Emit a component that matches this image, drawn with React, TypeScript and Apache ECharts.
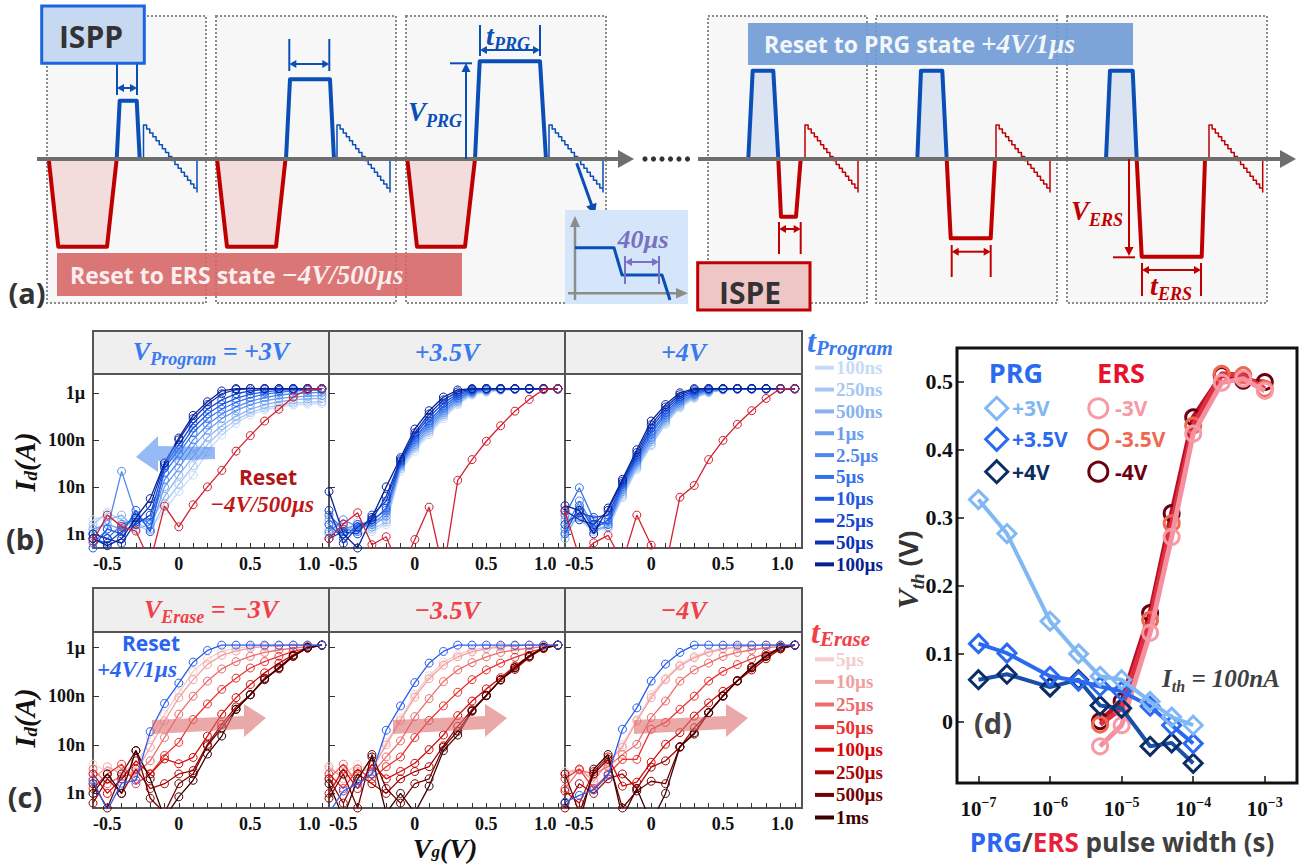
import React, { useEffect, useRef } from "react";
import * as echarts from "echarts";

// ---------------- DATA ----------------
const VG = [-0.6, -0.5, -0.4, -0.3, -0.2, -0.1, 0, 0.1, 0.2, 0.3, 0.4, 0.5, 0.6, 0.7, 0.8, 0.9, 1.0];
const X_MINOR_TICKS = [-0.5, -0.4, -0.3, -0.2, -0.1, 0, 0.1, 0.2, 0.3, 0.4, 0.5, 0.6, 0.7, 0.8, 0.9, 1.0];
const X_LABELS = [-0.5, 0, 0.5, 1.0];
const Y_TICK_LOG = [-9, -8, -7, -6];
const Y_TICK_TEXT = ["1n", "10n", "100n", "1µ"];

const T_PROGRAM = ["100ns", "250ns", "500ns", "1µs", "2.5µs", "5µs", "10µs", "25µs", "50µs", "100µs"];
const PRG_COLORS = ["#c6dbf7", "#a8c6f3", "#8ab2f0", "#6c9df0", "#4f88ef", "#3472ee", "#1f5ae6", "#1446cf", "#0c33b4", "#081f94"];
const T_ERASE = ["5µs", "10µs", "25µs", "50µs", "100µs", "250µs", "500µs", "1ms"];
const ERS_COLORS = ["#f6cccc", "#f1a0a0", "#ee6c6c", "#ea3434", "#d40a0a", "#a60606", "#730303", "#3d0000"];
const V_PROGRAM = ["+3V", "+3.5V", "+4V"];
const V_ERASE = ["−3V", "−3.5V", "−4V"];

// log10(Id [A]) versus VG, panel (b) V_Program = +3V
const B1 = [
  [-8.70, -8.60, -8.85, -8.75, -8.90, -8.50, -8.10, -7.75, -7.25, -6.90, -6.65, -6.47, -6.36, -6.30, -6.26, -6.24, -6.23],
  [-8.80, -8.55, -8.70, -8.80, -8.95, -8.35, -7.95, -7.55, -7.10, -6.80, -6.58, -6.42, -6.32, -6.26, -6.22, -6.20, -6.19],
  [-9.00, -8.70, -8.60, -8.90, -8.80, -8.20, -7.75, -7.35, -6.95, -6.70, -6.50, -6.35, -6.25, -6.19, -6.15, -6.13, -6.12],
  [-8.90, -8.80, -8.90, -8.60, -8.90, -8.00, -7.60, -7.15, -6.80, -6.55, -6.38, -6.25, -6.17, -6.12, -6.09, -6.07, -6.06],
  [-9.20, -8.90, -7.67, -8.60, -8.80, -7.85, -7.45, -7.00, -6.68, -6.45, -6.30, -6.18, -6.10, -6.05, -6.02, -6.00, -5.99],
  [-9.00, -9.10, -8.80, -8.70, -8.70, -7.70, -7.30, -6.85, -6.55, -6.35, -6.20, -6.10, -6.03, -5.99, -5.96, -5.95, -5.94],
  [-9.30, -8.90, -9.00, -8.50, -8.95, -7.60, -7.20, -6.75, -6.45, -6.25, -6.12, -6.03, -5.98, -5.95, -5.93, -5.92, -5.92],
  [-9.10, -9.20, -8.95, -8.80, -8.60, -7.55, -7.10, -6.65, -6.35, -6.15, -6.02, -5.96, -5.93, -5.92, -5.92, -5.91, -5.91],
  [-9.00, -9.10, -9.20, -8.75, -8.40, -7.50, -7.00, -6.55, -6.25, -6.02, -5.93, -5.91, -5.91, -5.91, -5.91, -5.91, -5.91],
  [-9.10, -9.25, -9.10, -8.66, -8.25, -7.49, -6.96, -6.48, -6.19, -5.96, -5.91, -5.91, -5.91, -5.91, -5.91, -5.91, -5.91],
];
const B1_RESET = [-9.15, -8.60, -8.84, -8.94, -9.60, -8.41, -8.85, -8.38, -8.00, -7.65, -7.24, -6.91, -6.60, -6.35, -6.09, -5.93, -5.91];

// panel (b) +3.5V
const B2 = [
  [-8.90, -8.80, -9.00, -8.95, -8.80, -7.67, -7.24, -6.89, -6.55, -6.25, -6.05, -5.99, -5.95, -5.93, -5.92, -5.92, -5.92],
  [-8.80, -9.00, -8.75, -8.90, -8.75, -7.62, -7.18, -6.84, -6.50, -6.22, -6.03, -5.97, -5.94, -5.93, -5.92, -5.92, -5.92],
  [-9.00, -8.85, -8.90, -8.70, -8.70, -7.58, -7.14, -6.80, -6.46, -6.19, -6.01, -5.96, -5.93, -5.92, -5.92, -5.92, -5.92],
  [-8.70, -8.90, -8.80, -8.85, -8.62, -7.55, -7.10, -6.75, -6.42, -6.16, -6.00, -5.95, -5.93, -5.92, -5.92, -5.92, -5.92],
  [-8.95, -8.70, -8.85, -8.80, -8.55, -7.52, -7.05, -6.70, -6.38, -6.13, -5.98, -5.94, -5.92, -5.92, -5.92, -5.92, -5.92],
  [-8.60, -8.90, -8.95, -8.70, -8.50, -7.50, -7.00, -6.65, -6.33, -6.10, -5.97, -5.93, -5.92, -5.92, -5.92, -5.92, -5.92],
  [-8.80, -9.10, -8.80, -8.75, -8.45, -7.47, -6.95, -6.60, -6.28, -6.06, -5.95, -5.92, -5.92, -5.92, -5.92, -5.92, -5.92],
  [-9.10, -8.95, -9.00, -8.60, -8.30, -7.45, -6.90, -6.52, -6.22, -6.02, -5.93, -5.91, -5.91, -5.91, -5.91, -5.91, -5.91],
  [-8.50, -9.20, -8.85, -8.70, -8.20, -7.42, -6.85, -6.45, -6.15, -5.98, -5.92, -5.91, -5.91, -5.91, -5.91, -5.91, -5.91],
  [-8.10, -9.00, -9.30, -8.65, -8.00, -7.38, -6.77, -6.38, -6.09, -5.94, -5.91, -5.91, -5.91, -5.91, -5.91, -5.91, -5.91],
];
const B2_RESET = [-9.10, -8.79, -8.55, -9.23, -9.06, -9.80, -9.12, -8.43, -9.80, -7.86, -7.42, -7.03, -6.70, -6.39, -6.14, -5.93, -5.91];

// panel (b) +4V
const B3 = [
  [-9.00, -8.60, -8.80, -8.90, -8.23, -7.63, -7.13, -6.67, -6.32, -6.12, -6.00, -5.94, -5.92, -5.92, -5.92, -5.92, -5.92],
  [-8.80, -8.70, -8.95, -8.85, -8.20, -7.60, -7.10, -6.64, -6.30, -6.10, -5.99, -5.94, -5.92, -5.92, -5.92, -5.92, -5.92],
  [-9.10, -8.50, -8.75, -8.80, -8.15, -7.56, -7.05, -6.60, -6.27, -6.08, -5.98, -5.93, -5.92, -5.92, -5.92, -5.92, -5.92],
  [-8.70, -8.65, -8.90, -8.85, -8.10, -7.52, -7.00, -6.56, -6.24, -6.06, -5.97, -5.93, -5.92, -5.92, -5.92, -5.92, -5.92],
  [-8.90, -8.30, -8.85, -8.75, -8.05, -7.47, -6.95, -6.52, -6.20, -6.04, -5.95, -5.92, -5.92, -5.92, -5.92, -5.92, -5.92],
  [-8.60, -8.02, -8.70, -8.80, -8.00, -7.43, -6.88, -6.47, -6.16, -6.02, -5.94, -5.92, -5.92, -5.92, -5.92, -5.92, -5.92],
  [-9.00, -8.40, -8.90, -8.70, -7.95, -7.38, -6.82, -6.42, -6.12, -5.99, -5.93, -5.91, -5.91, -5.91, -5.91, -5.91, -5.91],
  [-8.80, -8.55, -8.65, -8.60, -7.92, -7.33, -6.75, -6.36, -6.08, -5.96, -5.92, -5.91, -5.91, -5.91, -5.91, -5.91, -5.91],
  [-8.50, -8.70, -8.80, -8.50, -7.88, -7.27, -6.68, -6.30, -6.04, -5.93, -5.91, -5.91, -5.91, -5.91, -5.91, -5.91, -5.91],
  [-8.40, -8.50, -9.00, -8.45, -7.84, -7.21, -6.60, -6.25, -6.00, -5.91, -5.91, -5.91, -5.91, -5.91, -5.91, -5.91, -5.91],
];
const B3_RESET = [-8.52, -9.50, -9.19, -9.03, -9.60, -8.60, -9.24, -9.70, -8.22, -7.97, -7.42, -7.01, -6.67, -6.38, -6.12, -5.91, -5.91];

// panel (c) V_Erase = -3V
const C1 = [
  [-8.40, -8.55, -8.50, -8.46, -7.85, -7.37, -6.93, -6.49, -6.23, -6.08, -6.01, -5.98, -5.96, -5.95, -5.95, -5.95, -5.95],
  [-8.70, -8.45, -8.60, -8.56, -8.05, -7.51, -7.03, -6.66, -6.35, -6.16, -6.07, -6.01, -5.98, -5.96, -5.95, -5.95, -5.95],
  [-8.50, -8.80, -8.65, -8.60, -8.33, -7.85, -7.37, -7.00, -6.69, -6.44, -6.29, -6.18, -6.10, -6.05, -6.01, -5.98, -5.95],
  [-8.90, -8.60, -8.40, -8.80, -8.60, -8.22, -7.95, -7.48, -7.16, -6.86, -6.63, -6.42, -6.29, -6.18, -6.08, -6.01, -5.95],
  [-8.60, -9.00, -8.70, -8.33, -8.60, -8.29, -8.39, -8.26, -7.82, -7.37, -7.03, -6.76, -6.52, -6.32, -6.15, -6.01, -5.95],
  [-9.20, -8.70, -9.00, -8.50, -8.90, -8.80, -8.60, -8.53, -7.99, -7.58, -7.22, -6.97, -6.63, -6.44, -6.18, -6.01, -5.95],
  [-8.80, -9.30, -8.60, -8.12, -9.10, -9.40, -8.80, -8.60, -8.02, -7.65, -7.27, -6.97, -6.64, -6.41, -6.16, -5.99, -5.95],
  [-9.00, -8.60, -9.00, -8.12, -8.70, -9.50, -9.07, -8.73, -8.19, -7.82, -7.27, -6.97, -6.66, -6.42, -6.18, -6.00, -5.95],
];
const C1_RESET = [-8.73, -9.35, -8.79, -8.73, -7.73, -7.15, -6.73, -6.30, -6.06, -5.95, -5.95, -5.95, -5.95, -5.95, -5.95, -5.95, -5.95];

// panel (c) -3.5V
const C2 = [
  [-8.50, -8.60, -8.40, -8.55, -7.95, -7.45, -6.96, -6.58, -6.30, -6.14, -6.05, -6.00, -5.97, -5.96, -5.95, -5.95, -5.95],
  [-8.45, -8.70, -8.55, -8.50, -8.00, -7.50, -7.02, -6.64, -6.36, -6.19, -6.09, -6.02, -5.99, -5.96, -5.95, -5.95, -5.95],
  [-8.70, -8.40, -8.80, -8.60, -8.25, -7.92, -7.42, -7.05, -6.70, -6.46, -6.31, -6.19, -6.10, -6.05, -6.01, -5.98, -5.95],
  [-8.60, -8.90, -8.50, -8.70, -8.45, -8.25, -7.85, -7.50, -7.20, -6.92, -6.66, -6.46, -6.32, -6.20, -6.10, -6.01, -5.95],
  [-9.00, -8.50, -8.90, -8.40, -8.70, -8.55, -8.38, -8.10, -7.80, -7.40, -7.10, -6.85, -6.62, -6.38, -6.17, -6.01, -5.95],
  [-8.70, -9.20, -8.60, -8.80, -9.00, -8.70, -8.55, -8.45, -8.02, -7.62, -7.28, -6.99, -6.66, -6.45, -6.20, -6.02, -5.95],
  [-9.10, -8.60, -9.30, -8.20, -8.90, -9.20, -8.80, -8.70, -8.05, -7.72, -7.30, -6.99, -6.66, -6.41, -6.17, -6.00, -5.95],
  [-8.80, -9.50, -8.70, -8.25, -9.40, -9.00, -9.40, -8.85, -8.12, -7.80, -7.31, -6.98, -6.67, -6.42, -6.18, -6.00, -5.95],
];
const C2_RESET = [-9.40, -8.95, -8.80, -8.60, -7.70, -7.20, -6.72, -6.32, -6.08, -5.95, -5.95, -5.95, -5.95, -5.95, -5.95, -5.95, -5.95];

// panel (c) -4V
const C3 = [
  [-8.55, -8.50, -8.70, -8.40, -8.00, -7.48, -6.97, -6.63, -6.35, -6.18, -6.08, -6.01, -5.98, -5.96, -5.95, -5.95, -5.95],
  [-8.60, -8.50, -8.75, -8.35, -8.05, -7.51, -7.03, -6.66, -6.38, -6.21, -6.10, -6.03, -5.99, -5.96, -5.95, -5.95, -5.95],
  [-8.90, -8.52, -8.60, -8.45, -8.20, -7.99, -7.44, -7.10, -6.69, -6.46, -6.32, -6.18, -6.10, -6.05, -6.00, -5.98, -5.95],
  [-8.70, -8.50, -8.90, -8.60, -8.30, -8.30, -7.68, -7.54, -7.27, -7.00, -6.69, -6.49, -6.35, -6.23, -6.12, -6.02, -5.95],
  [-8.95, -9.20, -8.55, -8.25, -8.85, -8.77, -8.36, -7.99, -7.75, -7.41, -7.14, -6.90, -6.69, -6.42, -6.18, -6.02, -5.95],
  [-9.30, -8.80, -9.00, -8.70, -8.60, -8.90, -8.46, -8.33, -8.05, -7.65, -7.34, -7.00, -6.69, -6.46, -6.23, -6.03, -5.95],
  [-8.60, -9.40, -8.60, -8.30, -9.30, -8.95, -8.75, -8.80, -8.04, -7.75, -7.34, -7.00, -6.68, -6.40, -6.17, -6.01, -5.95],
  [-9.20, -9.60, -8.50, -8.20, -9.50, -8.90, -9.60, -9.00, -8.04, -7.78, -7.34, -6.99, -6.68, -6.41, -6.18, -5.99, -5.95],
];
const C3_RESET = [-9.18, -9.04, -8.93, -8.63, -7.68, -7.24, -6.69, -6.34, -6.10, -5.95, -5.95, -5.95, -5.95, -5.95, -5.95, -5.95, -5.95];

// panel (d): threshold voltage vs pulse width (s)
const PRG_WIDTH = [1e-7, 2.5e-7, 1e-6, 2.5e-6, 5e-6, 1e-5, 2.5e-5, 5e-5, 1e-4];
const VTH_PRG_3 = [0.327, 0.277, 0.148, 0.100, 0.067, 0.062, 0.030, 0.007, -0.005];
const VTH_PRG_35 = [0.115, 0.101, 0.067, 0.060, 0.052, 0.045, 0.023, -0.005, -0.032];
const VTH_PRG_4 = [0.062, 0.070, 0.051, 0.062, 0.024, 0.020, -0.036, -0.031, -0.061];
const ERS_WIDTH = [5e-6, 1e-5, 2.5e-5, 5e-5, 1e-4, 2.5e-4, 5e-4, 1e-3];
const VTH_ERS_3 = [-0.036, -0.005, 0.131, 0.272, 0.424, 0.499, 0.505, 0.487];
const VTH_ERS_35 = [-0.004, 0.020, 0.150, 0.292, 0.436, 0.512, 0.510, 0.490];
const VTH_ERS_4 = [0.001, 0.030, 0.160, 0.307, 0.448, 0.510, 0.502, 0.500];
const D_X_TICKS = [-7, -6, -5, -4, -3];
const D_Y_TICKS = [0, 0.1, 0.2, 0.3, 0.4, 0.5];

// ---------------- STYLE ----------------
const SERIF = '"Liberation Serif", "DejaVu Serif", serif';
const SANS = '"Open Sans", Lato, sans-serif';
const BLUE = "#0a4fb5";
const RED = "#c00000";
const GRAY = "#6e6e6e";

// ---------------- GRAPHIC HELPERS ----------------
function buildGraphic() {
  const G: any[] = [];
  const add = (el: any) => { if (el.z === undefined) el.z = 50; G.push(el); };
  const ln = (x1: number, y1: number, x2: number, y2: number, stroke: string, lw: number, extra: any = {}) =>
    add({ type: "line", shape: { x1, y1, x2, y2 }, style: { stroke, lineWidth: lw, ...extra } });
  const pl = (points: number[][], stroke: string, lw: number) =>
    add({ type: "polyline", shape: { points }, style: { stroke, lineWidth: lw, fill: null, lineJoin: "round" } });
  const pg = (points: number[][], fill: string, extra: any = {}) =>
    add({ type: "polygon", shape: { points }, style: { fill, ...extra } });
  const rc = (x: number, y: number, w: number, h: number, style: any) =>
    add({ type: "rect", shape: { x, y, width: w, height: h }, style });
  const tx = (x: number, y: number, text: string, font: string, fill: string, align = "center", va = "middle", rotation = 0) =>
    add({ type: "text", x, y, rotation, style: { text, font, fill, align, verticalAlign: va, textAlign: align, textVerticalAlign: va } });
  const rt = (x: number, y: number, text: string, rich: any, align = "center", va = "middle", rotation = 0) =>
    add({ type: "text", x, y, rotation, style: { text, rich, align, verticalAlign: va, textAlign: align, textVerticalAlign: va } });
  const head = (px: number, py: number, ang: number, len: number, wid: number, color: string) => {
    const bx = px - Math.cos(ang) * len, by = py - Math.sin(ang) * len;
    const nx = -Math.sin(ang) * wid / 2, ny = Math.cos(ang) * wid / 2;
    pg([[px, py], [bx + nx, by + ny], [bx - nx, by - ny]], color);
  };
  const dbl = (x1: number, x2: number, y: number, color: string) => {
    ln(x1 + 5, y, x2 - 5, y, color, 2);
    head(x1, y, Math.PI, 7, 8, color);
    head(x2, y, 0, 7, 8, color);
  };
  const sweep = (x0: number, x1: number, color: string) => {
    const yT = 125, yB = 192, n = 17;
    const pts: number[][] = [[x0, 159], [x0, yT]];
    const dx = (x1 - x0) / n, dy = (yB - yT) / n;
    for (let i = 0; i < n; i++) {
      pts.push([x0 + dx * (i + 1), yT + dy * i]);
      pts.push([x0 + dx * (i + 1), yT + dy * (i + 1)]);
    }
    pts.push([x1, 159]);
    pl(pts, color, 1.5);
  };
  const sub = (size: number, color: string, font = SERIF, style = "italic") => ({
    fontSize: size, fontFamily: font, fontWeight: "bold", fontStyle: style, fill: color, color,
    lineHeight: size, verticalAlign: "bottom",
  });
  const main = (size: number, color: string, font = SERIF, style = "italic", lh = 0) => ({
    fontSize: size, fontFamily: font, fontWeight: "bold", fontStyle: style, fill: color, color,
    lineHeight: lh || Math.round(size * 1.3), verticalAlign: "middle",
  });

  // ===== Panel (a) =====
  const boxes = [[47, 206], [216, 396], [406, 606], [708, 867], [876, 1057], [1067, 1267]];
  boxes.forEach(([a, b]) => rc(a, 16, b - a, 287, { fill: "#f7f7f7", stroke: "#8a8a8a", lineWidth: 2, lineDash: [2, 2] }));

  // reset-to-ERS banner
  rc(57, 253, 405, 43, { fill: "rgba(214,100,100,0.88)" });
  rt(70, 275, "{a|Reset to ERS state }{b|−4V/500µs}", {
    a: { fontSize: 23, fontFamily: SANS, fontWeight: "bold", fill: "#fbeeee", color: "#fbeeee" },
    b: { fontSize: 27, fontFamily: SERIF, fontWeight: "bold", fontStyle: "italic", fill: "#fbeeee", color: "#fbeeee" },
  }, "left");
  // reset-to-PRG banner
  rc(748, 23, 385, 42, { fill: "rgba(110,154,212,0.9)" });
  rt(764, 44, "{a|Reset to PRG state }{b|+4V/1µs}", {
    a: { fontSize: 23, fontFamily: SANS, fontWeight: "bold", fill: "#f3f6fb", color: "#f3f6fb" },
    b: { fontSize: 27, fontFamily: SERIF, fontWeight: "bold", fontStyle: "italic", fill: "#f3f6fb", color: "#f3f6fb" },
  }, "left");

  // ISPP cycles (boxes 1-3)
  const ersA = [
    [[48.7, 159], [58.3, 246.7], [107, 246.7], [116.7, 159]],
    [[217, 159], [227, 246.7], [276, 246.7], [285.5, 159]],
    [[407.3, 159], [417, 246.7], [465, 246.7], [475, 159]],
  ];
  const prgA = [
    [[116.7, 159], [119.7, 100.7], [136.7, 100.7], [139.7, 159]],
    [[286, 159], [290, 79.3], [330, 79.3], [334, 159]],
    [[475, 159], [479.7, 61.3], [540, 61.3], [546, 159]],
  ];
  ersA.forEach((p) => { pg(p, "#f2dcdc"); pl(p, RED, 4); });
  prgA.forEach((p) => pl(p, BLUE, 4));
  sweep(143.5, 197, BLUE);
  sweep(337, 390, BLUE);
  sweep(549, 603, BLUE);

  // ISPE cycles (boxes 4-6)
  const prgB = [
    [[748.3, 159], [752.7, 70.7], [773.3, 70.7], [778.3, 159]],
    [[917.3, 159], [921, 70.7], [942.3, 70.7], [946.7, 159]],
    [[1106, 159], [1110, 70.7], [1132.7, 70.7], [1136.7, 159]],
  ];
  const ersB = [
    [[778.3, 159], [781, 216.7], [796, 216.7], [800.7, 159]],
    [[946.7, 159], [950.7, 238.3], [990.7, 238.3], [995, 159]],
    [[1136.7, 159], [1141.7, 256.7], [1201.7, 256.7], [1205, 159]],
  ];
  prgB.forEach((p) => { pg(p, "#dde4f1"); pl(p, BLUE, 4); });
  ersB.forEach((p) => pl(p, RED, 4));
  sweep(805, 858, RED);
  sweep(996, 1050, RED);
  sweep(1209, 1262.7, RED);

  // time axes
  ln(37, 159, 622, 159, GRAY, 4);
  pg([[618, 150], [634, 159], [618, 168]], GRAY);
  [645, 653.5, 662, 670.5, 679, 687.5].forEach((x) => add({ type: "circle", shape: { cx: x, cy: 159, r: 2.6 }, style: { fill: "#333" } }));
  ln(698, 159, 1284, 159, GRAY, 4);
  pg([[1280, 150], [1296, 159], [1280, 168]], GRAY);

  // width markers
  ln(117, 63, 117, 95, BLUE, 2); ln(137, 63, 137, 95, BLUE, 2); dbl(117, 137, 88, BLUE);
  ln(289.3, 39, 289.3, 71, BLUE, 2); ln(329.3, 39, 329.3, 71, BLUE, 2); dbl(289.3, 329.3, 64, BLUE);
  ln(480, 25, 480, 56, BLUE, 2); ln(540, 25, 540, 56, BLUE, 2); dbl(480, 540, 50, BLUE);
  rt(508, 35, "{m|t}{s|PRG}", { m: main(28, BLUE), s: sub(18, BLUE) });
  // V_PRG
  ln(466, 159, 466, 70, BLUE, 2); head(466, 63, -Math.PI / 2, 9, 9, BLUE); ln(450, 63.3, 472, 63.3, BLUE, 2);
  rt(435, 112, "{m|V}{s|PRG}", { m: main(27, BLUE), s: sub(18, BLUE) });

  ln(779, 222, 779, 254, RED, 2); ln(800.7, 222, 800.7, 254, RED, 2); dbl(779, 800.7, 229, RED);
  ln(951.7, 245, 951.7, 277, RED, 2); ln(990.7, 245, 990.7, 277, RED, 2); dbl(951.7, 990.7, 251.7, RED);
  ln(1129, 159, 1129, 249, RED, 2); head(1129, 256, Math.PI / 2, 9, 9, RED); ln(1113, 257.3, 1135, 257.3, RED, 2);
  rt(1097, 211, "{m|V}{s|ERS}", { m: main(27, RED), s: sub(18, RED) });
  ln(1142, 263, 1142, 296, RED, 2); ln(1201, 263, 1201, 296, RED, 2); dbl(1142, 1201, 270, RED);
  rt(1171, 285, "{m|t}{s|ERS}", { m: main(28, RED), s: sub(18, RED) });

  // inset
  ln(576.7, 163.3, 592, 206, BLUE, 3); head(595, 215, Math.atan2(51.7, 18.3), 11, 11, BLUE);
  rc(565, 210, 123, 94, { fill: "#d6e6fa" });
  ln(575, 300, 575, 226, "#8c8c8c", 2.5); pg([[570, 227], [575, 216], [580, 227]], "#8c8c8c");
  ln(568, 293.3, 678, 293.3, "#8c8c8c", 2.5); pg([[676, 288], [688, 293.3], [676, 298.6]], "#8c8c8c");
  pl([[575, 247.7], [614, 247.7], [622, 275], [662, 275], [670, 300]], BLUE, 3);
  ln(625, 256, 625, 284, "#7a70c8", 2); ln(659, 256, 659, 284, "#7a70c8", 2); dbl(625, 659, 262, "#7a70c8");
  tx(643, 239, "40µs", `italic bold 26px ${SERIF}`, "#7a70c0");

  // ISPP / ISPE labels
  rc(41.7, 6, 102.6, 57.3, { fill: "#c6d9f0", stroke: "#1a66e0", lineWidth: 3 });
  tx(91, 36, "ISPP", `bold 30px ${SANS}`, "#333");
  rc(697.7, 262.7, 112.3, 47.3, { fill: "#efc6c6", stroke: RED, lineWidth: 3 });
  tx(750, 292, "ISPE", `bold 30px ${SANS}`, "#333");

  // panel labels
  tx(27, 292, "(a)", `bold 29px ${SANS}`, "#333");
  tx(25, 538, "(b)", `bold 29px ${SANS}`, "#333");
  tx(25, 796, "(c)", `bold 29px ${SANS}`, "#333");

  // ===== Panels (b), (c) =====
  const colX = [[93, 236], [329, 236], [565, 237]];
  const bTitleCol = "#3a7af0";
  const cTitleCol = "#f04048";
  colX.forEach(([x, w], i) => {
    rc(x, 331, w, 43, { fill: "#efefef", stroke: "#555", lineWidth: 2 });
    rc(x, 588, w, 44, { fill: "#efefef", stroke: "#555", lineWidth: 2 });
    if (i === 0) {
      rt(x + w / 2, 351, `{m|V}{s|Program}{m| = ${V_PROGRAM[i]}}`, { m: main(26, bTitleCol), s: sub(18, bTitleCol) });
      rt(x + w / 2, 609, `{m|V}{s|Erase}{m| = ${V_ERASE[i]}}`, { m: main(26, cTitleCol), s: sub(18, cTitleCol) });
    } else {
      tx(x + w / 2, 352, V_PROGRAM[i], `italic bold 26px ${SERIF}`, bTitleCol);
      tx(x + w / 2, 610, V_ERASE[i], `italic bold 26px ${SERIF}`, cTitleCol);
    }
  });

  // legends
  rt(807, 341, "{m|t}{s|Program}", { m: main(32, bTitleCol, SERIF, "italic", 34), s: sub(21, bTitleCol) }, "left");
  T_PROGRAM.forEach((t, k) => {
    const y = 367.7 + k * 21.85;
    ln(815, y, 834, y, PRG_COLORS[k], 4);
    tx(836, y, t, `bold 19px ${SERIF}`, PRG_COLORS[k], "left");
  });
  rt(811, 632, "{m|t}{s|Erase}", { m: main(32, cTitleCol, SERIF, "italic", 34), s: sub(21, cTitleCol) }, "left");
  T_ERASE.forEach((t, k) => {
    const y = 659.3 + k * 22.6;
    ln(815, y, 834, y, ERS_COLORS[k], 4);
    tx(836, y, t, `bold 19px ${SERIF}`, ERS_COLORS[k], "left");
  });

  // annotations
  pg([[215, 447], [158, 446], [158, 436], [136, 457], [158, 472], [158, 461], [215, 459]], "rgba(80,140,240,0.6)", { z: 60 });
  tx(268, 477, "Reset", `bold 21px ${SANS}`, "#b01818");
  tx(262, 504, "−4V/500µs", `italic bold 23px ${SERIF}`, "#c01818");
  tx(151, 643, "Reset", `bold 21px ${SANS}`, "#2a64f0");
  tx(137, 669, "+4V/1µs", `italic bold 23px ${SERIF}`, "#2a64f0");
  [0, 241, 482].forEach((dx) => {
    pg([[152 + dx, 734], [152 + dx, 720], [244 + dx, 716], [244 + dx, 704], [266 + dx, 718], [244 + dx, 737], [244 + dx, 729]], "rgba(222,110,110,0.6)");
  });

  // axis titles (b,c)
  rt(25, 462, "{m|I}{s|d}{m|(A)}", { m: main(29, "#111", SERIF, "italic", 30), s: sub(19, "#111") }, "center", "middle", Math.PI / 2);
  rt(25, 718, "{m|I}{s|d}{m|(A)}", { m: main(29, "#111", SERIF, "italic", 30), s: sub(19, "#111") }, "center", "middle", Math.PI / 2);
  rt(445, 848, "{m|V}{s|g}{m|(V)}", { m: main(28, "#111", SERIF, "italic", 24), s: sub(17, "#111") });

  // ===== Panel (d) =====
  tx(1016, 372, "PRG", `bold 27px ${SANS}`, "#2a6af0");
  tx(1121, 372, "ERS", `bold 27px ${SANS}`, "#e8102a");
  const prgLeg = [["+3V", "#80b8f5"], ["+3.5V", "#2a6af0"], ["+4V", "#0c2d64"]];
  const ersLeg = [["-3V", "#f79aa5"], ["-3.5V", "#f06850"], ["-4V", "#6b0012"]];
  [408.3, 439.3, 471.7].forEach((y, k) => {
    const cx = 996.7;
    pg([[cx, y - 11], [cx + 11, y], [cx, y + 11], [cx - 11, y]], "none", { stroke: prgLeg[k][1], lineWidth: 3 });
    tx(1012, y, prgLeg[k][0], `bold 21px ${SANS}`, prgLeg[k][1], "left");
    add({ type: "circle", shape: { cx: 1098.3, cy: y, r: 9.5 }, style: { fill: "none", stroke: ersLeg[k][1], lineWidth: 3 } });
    tx(1115, y, ersLeg[k][0], `bold 21px ${SANS}`, ersLeg[k][1], "left");
  });
  tx(993, 722, "(d)", `bold 29px ${SANS}`, "#444");
  rt(1221, 678, "{m|I}{s|th}{m| = 100nA}", { m: main(25, "#404040"), s: sub(16, "#404040") });
  rt(907, 570, "{m|V}{s|th}{p| (V)}", {
    m: main(30, "#333"), s: sub(19, "#333"),
    p: { fontSize: 27, fontFamily: SANS, fontWeight: "bold", fill: "#333", color: "#333", lineHeight: 39, verticalAlign: "middle" },
  }, "center", "middle", Math.PI / 2);
  const xt = (c: string) => ({ fontSize: 26, fontFamily: SANS, fontWeight: "bold", fill: c, color: c });
  rt(1122, 842, "{b|PRG}{g|/}{r|ERS}{g| pulse width (s)}", { b: xt("#2a66f0"), g: xt("#404040"), r: xt("#e8203c") });

  return G;
}

// ---------------- OPTION ----------------
function buildOption() {
  const grids: any[] = [];
  const xAxes: any[] = [];
  const yAxes: any[] = [];
  const series: any[] = [];
  const colX = [[93, 236], [329, 236], [565, 237]];
  const rows = [
    { top: 374, height: 174, ymin: -9.3, ymax: -5.6 },
    { top: 632, height: 176, ymin: -9.3, ymax: -5.68 },
  ];
  const B = [B1, B2, B3];
  const BR = [B1_RESET, B2_RESET, B3_RESET];
  const C = [C1, C2, C3];
  const CR = [C1_RESET, C2_RESET, C3_RESET];

  const labelFont = { fontFamily: SERIF, fontWeight: "bold", fontSize: 18, color: "#111" };
  const addCurve = (gi: number, vals: number[], color: string, z: number) => {
    series.push({
      type: "line", xAxisIndex: gi, yAxisIndex: gi, z,
      data: VG.map((x, i) => [x, vals[i]]),
      symbol: "circle", symbolSize: 8,
      itemStyle: { color: "rgba(0,0,0,0)", borderColor: color, borderWidth: 1 },
      lineStyle: { color, width: 1.3 },
      silent: true,
    });
  };

  rows.forEach((r, ri) => {
    colX.forEach(([x, w], ci) => {
      const gi = grids.length;
      grids.push({ left: x, top: r.top, width: w, height: r.height, show: true, borderColor: "#555", borderWidth: 2, backgroundColor: "#fff", containLabel: false });
      xAxes.push({
        gridIndex: gi, type: "value", min: -0.6, max: 1.05,
        axisLine: { show: false, onZero: false }, splitLine: { show: false },
        axisTick: { show: true, inside: true, length: 5, customValues: X_MINOR_TICKS, lineStyle: { color: "#333", width: 1 } },
        axisLabel: {
          ...labelFont, margin: 7, customValues: X_LABELS,
          formatter: (v: number) => (v === 0 ? "0" : v === 1 ? "{r|1.0}" : v.toFixed(1)),
          rich: { r: { ...labelFont, padding: [0, 25, 0, 0] } },
        },
      });
      yAxes.push({
        gridIndex: gi, type: "value", min: r.ymin, max: r.ymax,
        axisLine: { show: false, onZero: false }, splitLine: { show: false },
        axisTick: { show: true, inside: true, length: 6, customValues: Y_TICK_LOG, lineStyle: { color: "#333", width: 1 } },
        axisLabel: {
          show: ci === 0, ...labelFont, margin: 8, customValues: Y_TICK_LOG,
          formatter: (v: number) => Y_TICK_TEXT[Y_TICK_LOG.indexOf(Math.round(v))] || "",
        },
      });
      if (ri === 0) {
        B[ci].forEach((vals, k) => addCurve(gi, vals, PRG_COLORS[k], 3 + k));
        addCurve(gi, BR[ci], "#d42030", 20);
      } else {
        C[ci].forEach((vals, k) => addCurve(gi, vals, ERS_COLORS[k], 3 + k));
        addCurve(gi, CR[ci], "#2a5ef0", 20);
      }
    });
  });

  // panel (d)
  const gd = grids.length;
  grids.push({ left: 957, top: 348, width: 340, height: 435, show: true, borderColor: "#111", borderWidth: 3, backgroundColor: "#fff" });
  xAxes.push({
    gridIndex: gd, type: "value", min: -7.3, max: -2.55,
    axisLine: { show: false, onZero: false }, splitLine: { show: false },
    axisTick: { show: true, inside: true, length: 7, customValues: D_X_TICKS, lineStyle: { color: "#111", width: 1.5 } },
    axisLabel: {
      margin: 12, customValues: D_X_TICKS,
      formatter: (v: number) => `{b|10}{s|−${Math.round(-v)}}`,
      rich: {
        b: { fontFamily: SERIF, fontWeight: "bold", fontSize: 21, color: "#111", lineHeight: 24, verticalAlign: "bottom" },
        s: { fontFamily: SERIF, fontWeight: "bold", fontSize: 14, color: "#111", lineHeight: 14, verticalAlign: "top" },
      },
    },
  });
  yAxes.push({
    gridIndex: gd, type: "value", min: -0.09, max: 0.55,
    axisLine: { show: false, onZero: false }, splitLine: { show: false },
    axisTick: { show: true, inside: true, length: 7, customValues: D_Y_TICKS, lineStyle: { color: "#111", width: 1.5 } },
    axisLabel: {
      margin: 4, customValues: D_Y_TICKS, fontFamily: SERIF, fontWeight: "bold", fontSize: 22, color: "#111",
      formatter: (v: number) => (Math.abs(v) < 1e-9 ? "0" : v.toFixed(1)),
    },
  });
  const dSeries = (widths: number[], vals: number[], line: string, mark: string, symbol: string, size: number, lw: number, z: number) => {
    series.push({
      type: "line", xAxisIndex: gd, yAxisIndex: gd, z, silent: true,
      data: widths.map((w, i) => [Math.log10(w), vals[i]]),
      symbol, symbolSize: size,
      itemStyle: { color: "rgba(0,0,0,0)", borderColor: mark, borderWidth: 3 },
      lineStyle: { color: line, width: lw },
    });
  };
  dSeries(ERS_WIDTH, VTH_ERS_4, "#b8102c", "#6b0012", "circle", 15, 5, 3);
  dSeries(ERS_WIDTH, VTH_ERS_35, "#e0303f", "#f06850", "circle", 15, 5, 4);
  dSeries(ERS_WIDTH, VTH_ERS_3, "#f590a0", "#f79aa5", "circle", 15, 5, 5);
  dSeries(PRG_WIDTH, VTH_PRG_4, "#1850a8", "#0c2d64", "diamond", 18, 4, 6);
  dSeries(PRG_WIDTH, VTH_PRG_35, "#2a6af0", "#2a6af0", "diamond", 18, 4, 7);
  dSeries(PRG_WIDTH, VTH_PRG_3, "#80b8f5", "#80b8f5", "diamond", 18, 4, 8);

  return {
    animation: false,
    backgroundColor: "#ffffff",
    grid: grids,
    xAxis: xAxes,
    yAxis: yAxes,
    series,
    graphic: { elements: buildGraphic() },
  };
}

export default function App() {
  const ref = useRef<HTMLDivElement>(null);
  useEffect(() => {
    if (!ref.current) return;
    const chart = echarts.init(ref.current, undefined, { renderer: "svg" });
    chart.setOption(buildOption() as any);
    return () => chart.dispose();
  }, []);
  return <div ref={ref} style={{ position: "absolute", left: 0, top: 0, width: 1301, height: 864, background: "#fff" }} />;
}
